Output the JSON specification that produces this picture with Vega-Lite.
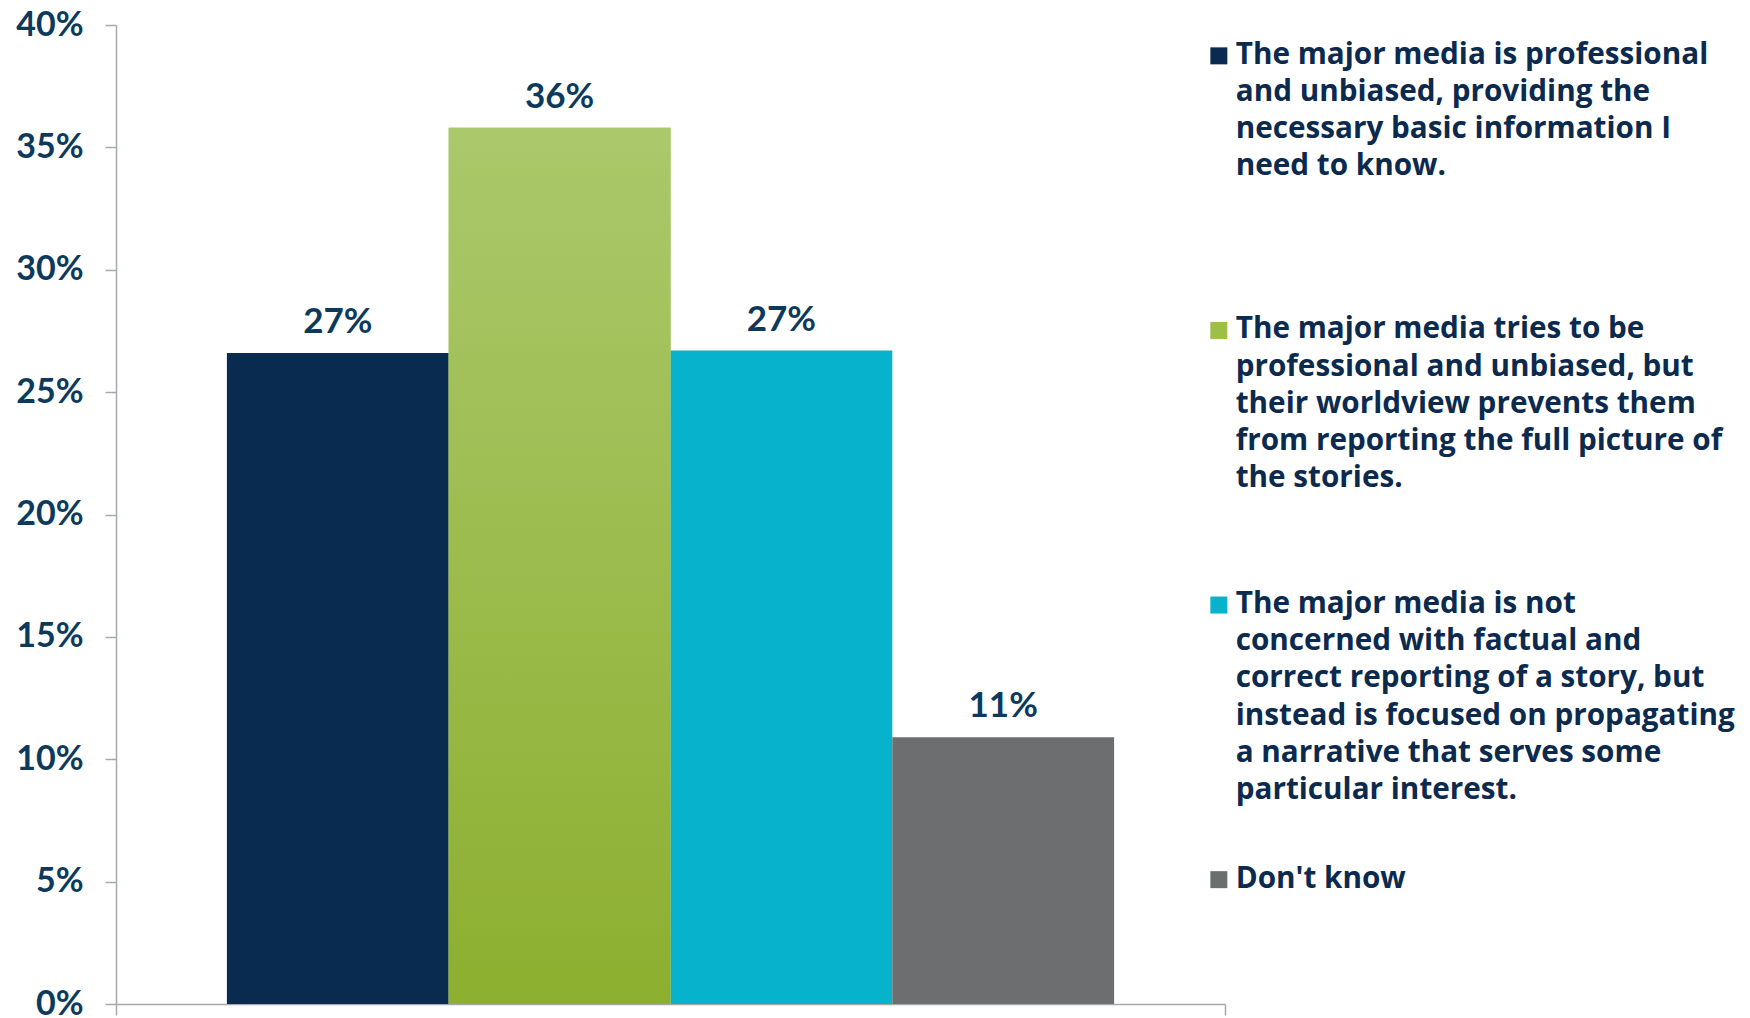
{
  "$schema": "https://vega.github.io/schema/vega-lite/v6.json",
  "width": 1109,
  "height": 979,
  "autosize": {"type": "none"},
  "padding": {"left": 116, "top": 25, "right": 525, "bottom": 14},
  "background": "white",
  "data": {
    "values": [
      {"group": "All", "order": 1, "response": "The major media is professional|and unbiased, providing the|necessary basic information I|need to know.", "share": 0.266},
      {"group": "All", "order": 2, "response": "The major media tries to be|professional and unbiased, but|their worldview prevents them|from reporting the full picture of|the stories.", "share": 0.358},
      {"group": "All", "order": 3, "response": "The major media is not|concerned with factual and|correct reporting of a story, but|instead is focused on propagating|a narrative that serves some|particular interest.", "share": 0.267},
      {"group": "All", "order": 4, "response": "Don't know", "share": 0.109}
    ]
  },
  "encoding": {
    "x": {
      "field": "group",
      "type": "nominal",
      "scale": {"paddingInner": 0, "paddingOuter": 0},
      "axis": {"labels": false, "title": null, "ticks": true, "tickBand": "extent", "tickSize": 11, "tickColor": "#a6a9ae", "tickWidth": 1.5, "domainColor": "#a6a9ae", "domainWidth": 1.5}
    },
    "xOffset": {
      "field": "order",
      "type": "ordinal",
      "scale": {"paddingInner": 0, "paddingOuter": 0.5}
    },
    "y": {
      "field": "share",
      "type": "quantitative",
      "scale": {"domain": [0, 0.4]},
      "axis": {
        "values": [0, 0.05, 0.1, 0.15, 0.2, 0.25, 0.3, 0.35, 0.4],
        "format": ".0%",
        "grid": false,
        "title": null,
        "domainColor": "#a6a9ae",
        "domainWidth": 1.5,
        "tickColor": "#a6a9ae",
        "tickWidth": 1.5,
        "tickSize": 11,
        "labelPadding": 22,
        "labelFont": "Lato",
        "labelFontSize": 34,
        "labelFontWeight": "bold",
        "labelColor": "#0d3a5c"
      }
    }
  },
  "layer": [
    {
      "mark": {"type": "bar"},
      "encoding": {
        "color": {
          "field": "response",
          "type": "nominal",
          "sort": null,
          "scale": {"range": ["#082b4f", "#9dbf45", "#06b2cc", "#6d6e70"]},
          "legend": {
            "orient": "none",
            "legendX": 1088,
            "legendY": 16,
            "title": null,
            "symbolType": "square",
            "symbolSize": 289,
            "symbolStrokeWidth": 0,
            "labelFont": "Open Sans",
            "labelFontSize": 29.7,
            "labelFontWeight": "bold",
            "labelColor": "#0b2a4e",
            "labelOffset": 2,
            "labelLimit": 0,
            "labelBaseline": "top",
            "labelExpr": "slice(split(datum.label + '|||||||', '|'), 0, 7)",
            "rowPadding": 20.6,
            "padding": 0,
            "encode": {"labels": {"update": {"dy": {"value": -15}, "lineHeight": {"value": 37.2}}}}
          }
        }
      }
    },
    {
      "transform": [{"filter": "datum.order == 2"}],
      "mark": {
        "type": "bar",
        "fill": {
          "gradient": "linear",
          "x1": 0, "y1": 0, "x2": 0, "y2": 1,
          "stops": [
            {"offset": 0, "color": "#abc86b"},
            {"offset": 1, "color": "#8daf2f"}
          ]
        }
      }
    },
    {
      "mark": {"type": "text", "baseline": "alphabetic", "dy": -20, "font": "Lato", "fontSize": 35, "fontWeight": "bold", "color": "#0d3a5c"},
      "encoding": {"text": {"field": "share", "type": "quantitative", "format": ".0%"}}
    }
  ],
  "config": {"view": {"stroke": null}}
}
